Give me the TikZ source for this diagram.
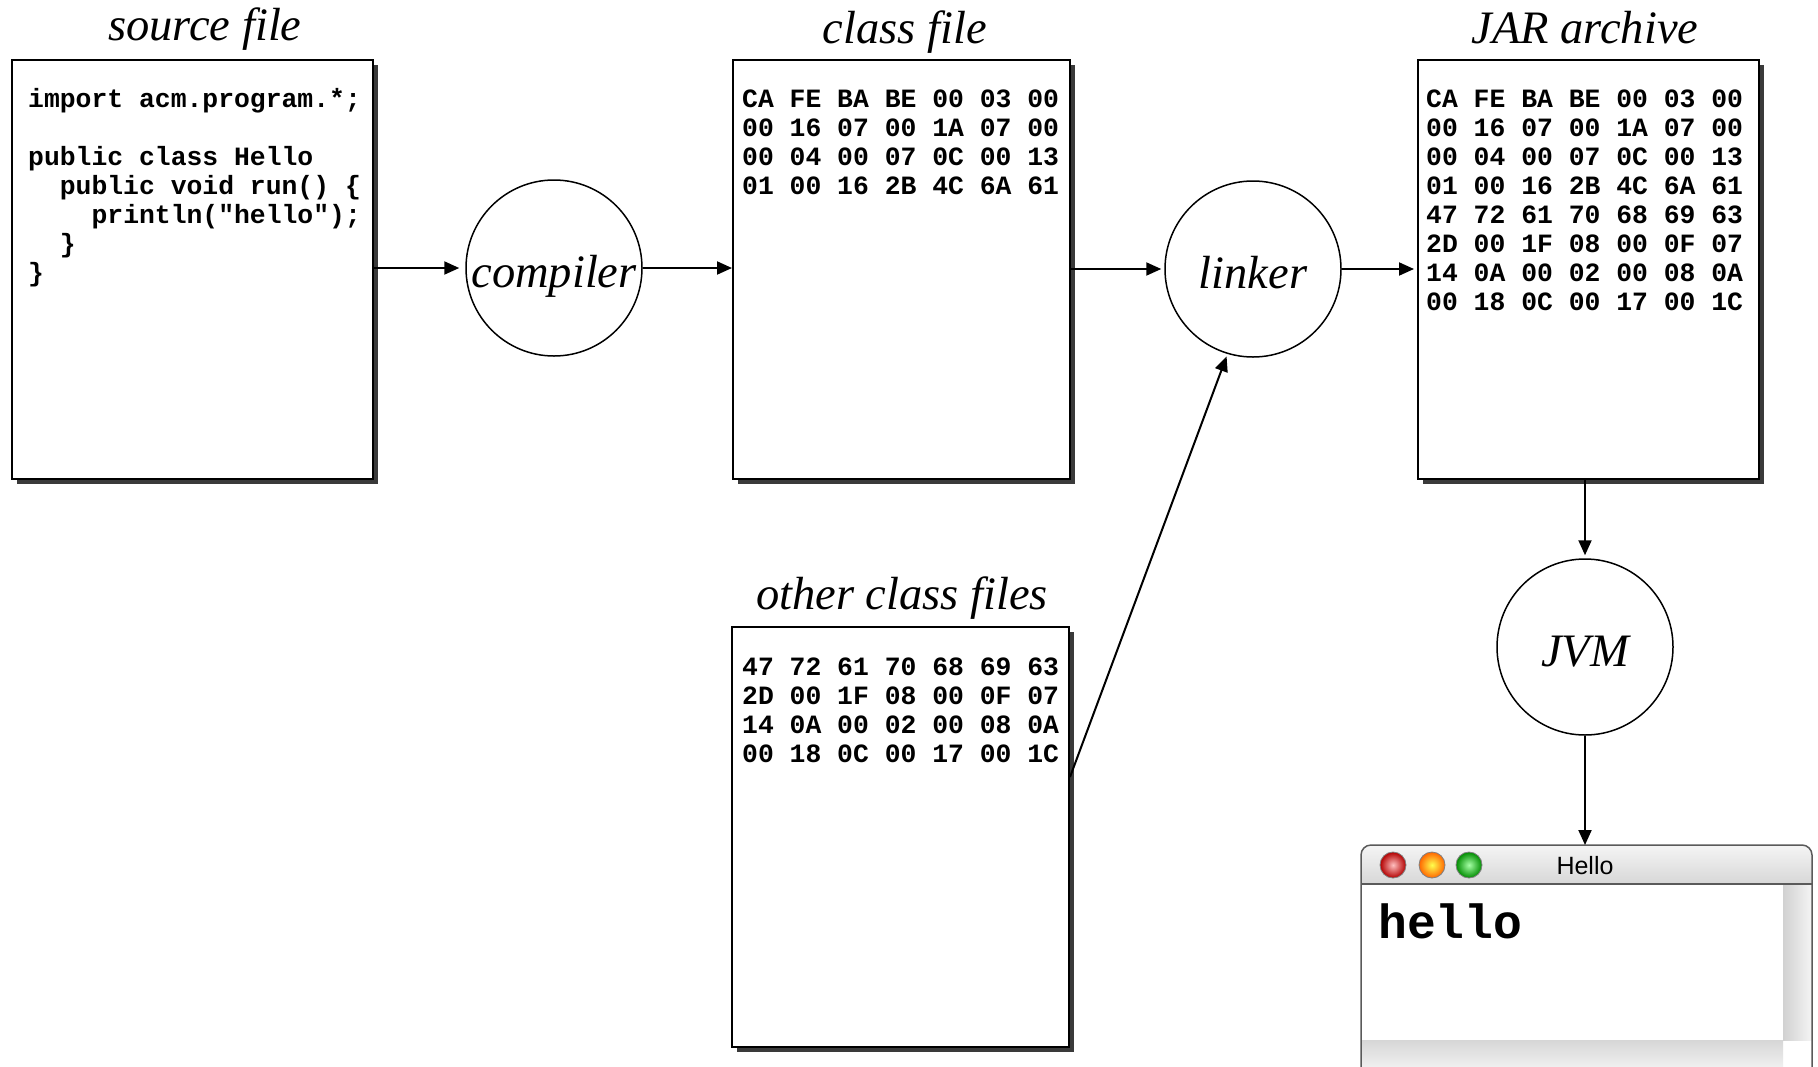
\documentclass[tikz,border=0pt]{standalone}
\usepackage{fontspec}
\setmainfont{Liberation Serif}
\newfontfamily\codefont{Liberation Mono}
\newfontfamily\uifont{Liberation Sans}
\usetikzlibrary{arrows.meta,shadows}
\definecolor{shadowgray}{HTML}{3A3A3A}
\definecolor{winborder}{HTML}{5A5A5A}
\newcommand{\proctext}[1]{\raisebox{-19pt}[0pt][0pt]{\makebox[0pt]{#1}}}
\tikzset{
  filebox/.style={draw, line width=2pt, fill=white, inner sep=0pt,
    drop shadow={shadow xshift=5pt, shadow yshift=-5pt, fill=shadowgray, opacity=1}},
  procnode/.style={draw, circle, line width=1.5pt, minimum size=176pt, inner sep=0pt,
    font=\itshape\fontsize{46.5}{50}\selectfont},
  lbl/.style={anchor=base, inner sep=0pt, font=\itshape\fontsize{46.5}{50}\selectfont},
  code/.style={anchor=base west, inner sep=0pt, font=\codefont\bfseries\fontsize{26.4}{29}\selectfont},
  arr/.style={line width=2pt, -{Triangle[length=15pt,width=13pt]}},
  btn/.style={draw=black!50, line width=0.8pt}
}
\begin{document}
\begin{tikzpicture}[x=1pt,y=-1pt]
\useasboundingbox (0,0) rectangle (1818,1066);
\clip (0,0) rectangle (1818,1066);

% labels
\node[lbl] (lsrc) at (205,40.5) {source file};
\node[lbl] (lcls) at (905,43.5) {class file};
\node[lbl] (ljar) at (1585,43.5) {JAR archive};
\node[lbl] (loth) at (902,609.5) {other class files};

% boxes
\node[filebox, minimum width=361pt, minimum height=419pt] (src) at (192.5,269.5) {};
\node[filebox, minimum width=337pt, minimum height=419pt] (cls) at (901.5,269.5) {};
\node[filebox, minimum width=341pt, minimum height=419pt] (jar) at (1588.5,269.5) {};
\node[filebox, minimum width=337pt, minimum height=420pt] (oth) at (900.5,837) {};

% source code
\node[code] (s1) at (28,107) {import acm.program.*;};
\node[code] (s2) at (28,165) {public class Hello};
\node[code] (s3) at (28,194) {\hphantom{xx}public void run() \{};
\node[code] (s4) at (28,223) {\hphantom{xxxx}println("hello");};
\node[code] (s5) at (28,252) {\hphantom{xx}\}};
\node[code] (s6) at (28,281) {\}};

% class file
\node[code] (c1) at (742,107) {CA FE BA BE 00 03 00};
\node[code] (c2) at (742,136) {00 16 07 00 1A 07 00};
\node[code] (c3) at (742,165) {00 04 00 07 0C 00 13};
\node[code] (c4) at (742,194) {01 00 16 2B 4C 6A 61};

% jar
\node[code] (j1) at (1426,107) {CA FE BA BE 00 03 00};
\node[code] (j2) at (1426,136) {00 16 07 00 1A 07 00};
\node[code] (j3) at (1426,165) {00 04 00 07 0C 00 13};
\node[code] (j4) at (1426,194) {01 00 16 2B 4C 6A 61};
\node[code] (j5) at (1426,223) {47 72 61 70 68 69 63};
\node[code] (j6) at (1426,252) {2D 00 1F 08 00 0F 07};
\node[code] (j7) at (1426,281) {14 0A 00 02 00 08 0A};
\node[code] (j8) at (1426,310) {00 18 0C 00 17 00 1C};

% other class files
\node[code] (o1) at (742,675) {47 72 61 70 68 69 63};
\node[code] (o2) at (742,704) {2D 00 1F 08 00 0F 07};
\node[code] (o3) at (742,733) {14 0A 00 02 00 08 0A};
\node[code] (o4) at (742,762) {00 18 0C 00 17 00 1C};

% processes
\node[procnode] (comp) at (554,268) {\proctext{compiler}};
\node[procnode] (link) at (1253,269) {\proctext{linker}};
\node[procnode] (jvm) at (1585,647) {\proctext{JVM}};

% window
\node[minimum width=451pt, minimum height=230pt, anchor=north west, inner sep=0pt] (win) at (1361,845) {};
\shade[top color=white!96!black, bottom color=black!22, rounded corners=10pt] (1361,845) rectangle (1812,905);
\fill[white] (1361,884) rectangle (1812,1075);
\shade[left color=black!18, right color=black!4] (1783,884) rectangle (1812,1040);
\shade[top color=black!16, bottom color=black!3] (1361,1040) rectangle (1783,1075);
\draw[winborder, line width=1.5pt] (1361,884) -- (1812,884);
\draw[winborder, line width=1.5pt, rounded corners=10pt] (1361,1080) -- (1361,845) -- (1812,845) -- (1812,1080);
\shade[btn, inner color=red!25!white, outer color=red!70!black] (1393,865) circle (13pt);
\shade[btn, inner color=yellow!70!white, outer color=orange!80!red] (1432,865) circle (13pt);
\shade[btn, inner color=green!35!white, outer color=green!55!black] (1469,865) circle (13pt);
\node[font=\uifont\fontsize{25}{25}\selectfont, inner sep=0pt] (wtitle) at (1585,866) {Hello};
\node[anchor=base west, inner sep=0pt, font=\codefont\bfseries\fontsize{48}{48}\selectfont] (whello) at (1378,938) {hello};

% connectors
\draw[arr] (src.east |- comp) -- ([xshift=-6pt]comp.west);
\draw[arr] (comp.east) -- (cls.west |- comp);
\draw[arr] (cls.east |- link) -- ([xshift=-3pt]link.west);
\draw[arr] (link.east) -- ([xshift=-3pt]jar.west |- link);
\draw[arr] (jar.south -| jvm) -- ([yshift=3pt]jvm.north);
\draw[arr] (jvm.south) -- (win.north -| jvm);
\draw[arr] ([yshift=60pt]oth.east) -- ([shift={(1pt,-3pt)}]link.252);
\end{tikzpicture}
\end{document}
